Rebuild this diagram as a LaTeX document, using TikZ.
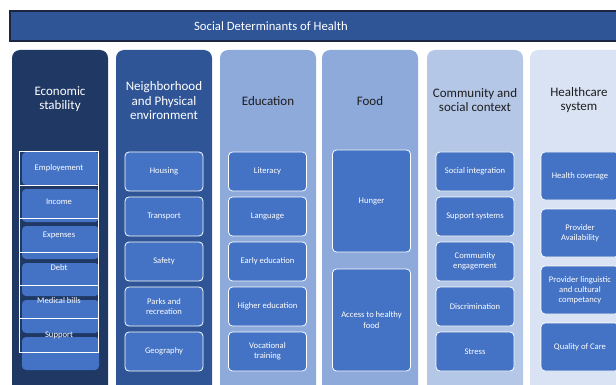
\documentclass[tikz,border=0pt]{standalone}
\usepackage{fontspec}
\setmainfont{Carlito}
\definecolor{titleblue}{HTML}{2F5597}
\definecolor{titleedge}{HTML}{1B2640}
\definecolor{colone}{HTML}{1F3864}
\definecolor{coltwo}{HTML}{2F5597}
\definecolor{colthree}{HTML}{8EAADB}
\definecolor{colfive}{HTML}{B4C7E7}
\definecolor{colsix}{HTML}{DAE3F3}
\definecolor{boxblue}{HTML}{4472C4}
\definecolor{headdark}{HTML}{1E1E1E}
\begin{document}
\begin{tikzpicture}[x=1pt,y=-1pt,
  col/.style={rounded corners=8pt},
  head/.style={align=center,font=\fontsize{13}{14.5}\selectfont},
  item/.style={draw=white,line width=0.8pt,fill=boxblue,rounded corners=4pt,
    text=white,align=center,font=\fontsize{8.6}{10.2}\selectfont,
    minimum width=78pt,minimum height=39pt,inner sep=1pt},
  cell/.style={text=white,font=\fontsize{8.6}{10.2}\selectfont,inner sep=0pt}]
\useasboundingbox (0,0) rectangle (616,385);
\clip (0,0) rectangle (616,385);
% title
                \draw [fill=titleblue,draw=titleedge,line width=1.2pt] ( 10, 11 ) rectangle ( 630, 41 );
                \node [text=white,font=\fontsize{12.7}{14}\selectfont] (title) at ( 271, 26 ) {Social Determinants of Health};

% columns
                \fill [col,fill=colone] ( 12, 50 ) rectangle ( 108, 400 );
                \fill [col,fill=coltwo] ( 116, 50 ) rectangle ( 212, 400 );
                \fill [col,fill=colthree] ( 220, 50 ) rectangle ( 316, 400 );
                \fill [col,fill=colthree] ( 322, 50 ) rectangle ( 418, 400 );
                \fill [col,fill=colfive] ( 427, 50 ) rectangle ( 523, 400 );
                \fill [col,fill=colsix] ( 530, 50 ) rectangle ( 640, 400 );

% headers
                \node [head,text=white] (econ) at ( 60, 99 ) {Economic\\stability};
                \node [head,text=white] (neigh) at ( 164, 101 ) {Neighborhood\\and Physical\\environment};
                \node [head,text=headdark] (edu) at ( 268, 101 ) {Education};
                \node [head,text=headdark] (food) at ( 370, 101 ) {Food};
                \node [head,text=headdark] (comm) at ( 475, 100 ) {Community and\\social context};
                \node [head,text=headdark] (care) at ( 579, 100 ) {Healthcare\\system};

% economic stability: boxes under the white grid
                \fill [rounded corners=4pt,fill=boxblue] ( 22, 152 ) rectangle ( 99, 185 );
                \fill [rounded corners=4pt,fill=boxblue] ( 22, 189 ) rectangle ( 99, 222 );
                \fill [rounded corners=4pt,fill=boxblue] ( 22, 226 ) rectangle ( 99, 259 );
                \fill [rounded corners=4pt,fill=boxblue] ( 22, 263 ) rectangle ( 99, 296 );
                \fill [rounded corners=4pt,fill=boxblue] ( 22, 300 ) rectangle ( 99, 333 );
                \fill [rounded corners=4pt,fill=boxblue] ( 22, 337 ) rectangle ( 99, 370 );
                \draw [white,line width=1pt] ( 19, 152 ) rectangle ( 98, 352 );
                \draw [white,line width=1pt] ( 19, 185.3 ) -- ( 98, 185.3 );
                \draw [white,line width=1pt] ( 19, 218.7 ) -- ( 98, 218.7 );
                \draw [white,line width=1pt] ( 19, 252 ) -- ( 98, 252 );
                \draw [white,line width=1pt] ( 19, 285.3 ) -- ( 98, 285.3 );
                \draw [white,line width=1pt] ( 19, 318.7 ) -- ( 98, 318.7 );
                \node [cell] (employ) at ( 59, 168.5 ) {Employement};
                \node [cell] (income) at ( 59, 202 ) {Income};
                \node [cell] (expense) at ( 59, 235 ) {Expenses};
                \node [cell] (debt) at ( 59, 268 ) {Debt};
                \node [cell] (medical) at ( 59, 301 ) {Medical bills};
                \node [cell] (support) at ( 59, 335 ) {Support};

% neighborhood
                \node [item] (housing) at ( 164, 171.5 ) {Housing};
                \node [item] (transport) at ( 164, 216.5 ) {Transport};
                \node [item] (safety) at ( 164, 261.5 ) {Safety};
                \node [item] (parks) at ( 164, 306.5 ) {Parks and\\recreation};
                \node [item] (geo) at ( 164, 351.5 ) {Geography};

% education
                \node [item] (literacy) at ( 267.5, 171.5 ) {Literacy};
                \node [item] (language) at ( 267.5, 216.5 ) {Language};
                \node [item] (early) at ( 267.5, 261.5 ) {Early education};
                \node [item] (higher) at ( 267.5, 306.5 ) {Higher education};
                \node [item] (vocation) at ( 267.5, 351.5 ) {Vocational\\training};

% food
                \node [item,minimum height=102pt] (hunger) at ( 371.5, 201 ) {Hunger};
                \node [item,minimum height=102pt] (access) at ( 371.5, 320 ) {Access to healthy\\food};

% community
                \node [item] (integr) at ( 475, 171.5 ) {Social integration};
                \node [item] (systems) at ( 475, 216.5 ) {Support systems};
                \node [item] (engage) at ( 475, 261.5 ) {Community\\engagement};
                \node [item] (discrim) at ( 475, 306.5 ) {Discrimination};
                \node [item] (stress) at ( 475, 351.5 ) {Stress};

% healthcare
                \node [item,minimum height=48pt] (coverage) at ( 580, 176 ) {Health coverage};
                \node [item,minimum height=48pt] (avail) at ( 580, 233 ) {Provider\\Availability};
                \node [item,minimum height=48pt] (lingo) at ( 580, 290 ) {Provider linguistic\\and cultural\\competancy};
                \node [item,minimum height=48pt] (quality) at ( 580, 347 ) {Quality of Care};
\end{tikzpicture}
\end{document}
